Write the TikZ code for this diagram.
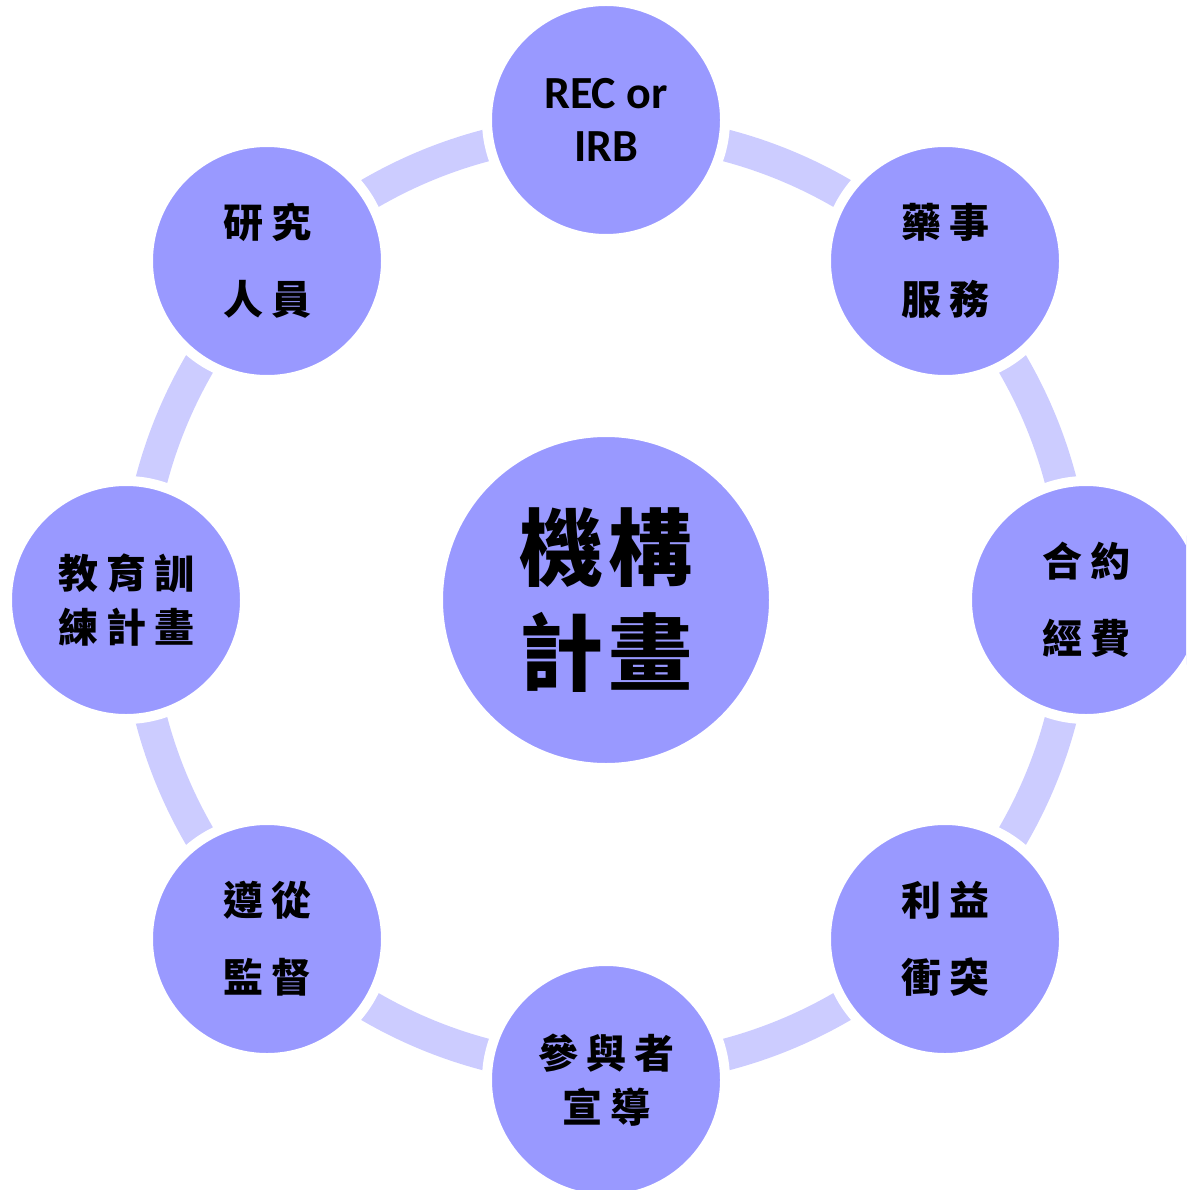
\documentclass[tikz,border=0pt]{standalone}
\usepackage{fontspec}
\setmainfont{Carlito}
\newfontfamily\cjk{Noto Sans CJK TC}
\definecolor{nodefill}{HTML}{9999FF}
\definecolor{ringcol}{HTML}{CCCCFF}
\newcommand{\gp}{\hspace{8pt}}
\begin{document}
\begin{tikzpicture}[x=1pt,y=-1pt,
  outer/.style={circle,fill=nodefill,draw=white,line width=10pt,minimum size=238pt,inner sep=0pt,align=center,
    font=\cjk\bfseries\fontsize{40}{77}\selectfont},
  outerthree/.style={outer,font=\cjk\bfseries\fontsize{40}{54}\selectfont},
  centre/.style={circle,fill=nodefill,draw=white,line width=2pt,minimum size=328pt,inner sep=0pt,align=center,
    font=\cjk\bfseries\fontsize{84}{105}\selectfont}]
\useasboundingbox (0,0) rectangle (1186,1190);
\clip (0,0) rectangle (1186,1190);
\coordinate (c) at (606,600);
\draw[ringcol,line width=32pt] (c) circle[radius=470];
\node[centre] (hub) at (c) {機\hspace{6pt}構\\計\hspace{6pt}畫};
\node[outer,font=\bfseries\fontsize{46}{53}\selectfont] (rec) at (606,120) {REC or\\IRB};
\node[outer] (pharm) at (945,261) {藥\gp 事\\服\gp 務};
\node[outer] (fund) at (1086,600) {合\gp 約\\經\gp 費};
\node[outer] (coi) at (945,939) {利\gp 益\\衝\gp 突};
\node[outerthree] (part) at (606,1080) {參\gp 與\gp 者\\宣\gp 導};
\node[outer] (comp) at (267,939) {遵\gp 從\\監\gp 督};
\node[outerthree] (edu) at (126,600) {教\gp 育\gp 訓\\練\gp 計\gp 畫};
\node[outer] (staff) at (267,261) {研\gp 究\\人\gp 員};
\end{tikzpicture}
\end{document}
